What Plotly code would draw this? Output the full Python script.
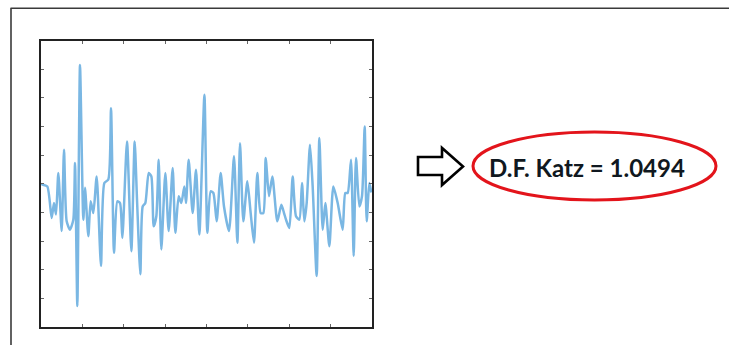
import plotly.graph_objects as go

# Signal samples (x = sample position, y = amplitude)
sig_x = [0.0, 0.81, 3.06, 5.16, 6.28, 7.25, 8.38, 9.99, 11.12, 12.41, 14.02, 15.63, 16.44, 17.56,
         18.85, 20.46, 21.27, 22.88, 24.01, 25.30, 26.91, 29.00, 30.62, 32.55, 33.84, 35.29, 36.90,
         38.19, 39.32, 41.57, 43.67, 45.28, 46.41, 48.02, 49.15, 50.43, 52.05, 53.34, 54.46, 55.75,
         56.88, 58.17, 60.10, 61.71, 63.65, 64.94, 66.55, 67.84, 69.29, 70.09, 71.38, 73.32, 74.93,
         76.54, 79.0, 80.41, 82.02, 83.31, 84.92, 86.85, 88.46, 90.88, 93.30, 94.91, 96.20, 97.81,
         99.74, 101.35, 102.96, 104.57, 106.19, 107.48, 108.60, 110.22, 111.83, 114.24, 116.18,
         117.47, 118.43, 120.04, 121.66, 123.27, 124.88, 126.17, 127.29, 128.42, 130.03, 131.32,
         133.26, 134.55, 136.16, 137.45, 139.38, 141.31, 143.41, 145.83, 147.11, 148.24, 149.85,
         151.14, 152.27, 153.88, 155.17, 156.46, 157.43, 158.72, 159.7]
sig_y = [0.0, -0.03, -0.09, -1.19, -0.67, -1.07, 0.38, -1.65, 1.19, -1.31, -1.60, -1.25, 0.73, -4.27,
         4.15, -1.25, -0.14, -1.83, -0.61, -1.02, 0.26, -2.87, 0.03, 0.15, 2.64, -2.41, -0.61,
         -0.67, -1.89, 1.48, -2.35, 1.48, -0.55, -3.16, -0.79, -0.67, 0.38, 0.26, -1.48, -1.13,
         0.84, -2.29, 0.38, -1.65, 0.55, -1.71, -0.43, -0.67, -0.09, -0.67, 0.84, -1.02, 0.49,
         -1.77, 3.11, -1.71, -0.26, -0.32, -1.31, 0.38, -0.79, -1.65, 0.96, -2.06, 1.42, -1.31,
         0.09, -1.02, -2.06, 0.38, -1.02, -1.02, 0.90, -0.43, 0.26, -1.31, -0.73,
         -1.02, -1.25, -1.54, 0.26, -1.13, -1.25, 0.03, -1.31, -0.67, 1.37, -0.09,
         -3.22, 1.60, -1.60, -0.67, -2.18, -0.09, -0.67, -1.60, -0.32, -0.32, 0.84,
         -2.52, 0.90, -0.79, -0.43, 2.00, -1.31, 0.03, -0.3]

label_text = "D.F. Katz = 1.0494"

W, H = 729, 345


def px(x):
    return x / W


def py(y):
    return 1 - y / H


fig = go.Figure()
fig.add_trace(go.Scatter(
    x=sig_x, y=sig_y, mode="lines",
    line=dict(color="#7ab7e3", width=2.5, shape="spline", smoothing=0.6),
    hoverinfo="skip", showlegend=False,
))

axis_common = dict(
    showgrid=False, zeroline=False, showticklabels=False,
    ticks="inside", ticklen=3, tickcolor="#666", tickwidth=1,
    showline=True, linecolor="#222", linewidth=1.6, mirror="allticks",
)
fig.update_xaxes(range=[0, 160], dtick=20, tick0=0, domain=[px(41), px(372)], **axis_common)
fig.update_yaxes(range=[-5, 5], dtick=1, tick0=-5, domain=[py(327), py(40.7)], **axis_common)

shapes = []
# outer frame (top and left lines)
shapes.append(dict(type="line", xref="paper", yref="paper", x0=px(10.5), x1=px(729), y0=py(8.3), y1=py(8.3),
                   line=dict(color="#3a3a3a", width=1.6)))
shapes.append(dict(type="line", xref="paper", yref="paper", x0=px(11), x1=px(11), y0=py(8.3), y1=py(345),
                   line=dict(color="#3a3a3a", width=1.6)))
# outline arrow
ax = [418, 442, 442, 463, 442, 442, 418]
ay = [157, 157, 148, 166.5, 185, 175, 175]
path = "M " + " L ".join(f"{px(a):.5f},{py(b):.5f}" for a, b in zip(ax, ay)) + " Z"
shapes.append(dict(type="path", xref="paper", yref="paper", path=path,
                   line=dict(color="#000", width=2.6), fillcolor="white"))
# red ellipse
shapes.append(dict(type="circle", xref="paper", yref="paper", x0=px(473), x1=px(716), y0=py(200), y1=py(132),
                   line=dict(color="#e3141b", width=3)))

fig.update_layout(
    width=W, height=H, margin=dict(l=0, r=0, t=0, b=0),
    paper_bgcolor="white", plot_bgcolor="white",
    shapes=shapes,
    annotations=[dict(text=f"<b>{label_text}</b>", xref="paper", yref="paper",
                      x=px(587), y=py(167), xanchor="center", yanchor="middle", showarrow=False,
                      font=dict(family="Lato", size=24, color="#101820"))],
)

fig.write_html("out.html")
